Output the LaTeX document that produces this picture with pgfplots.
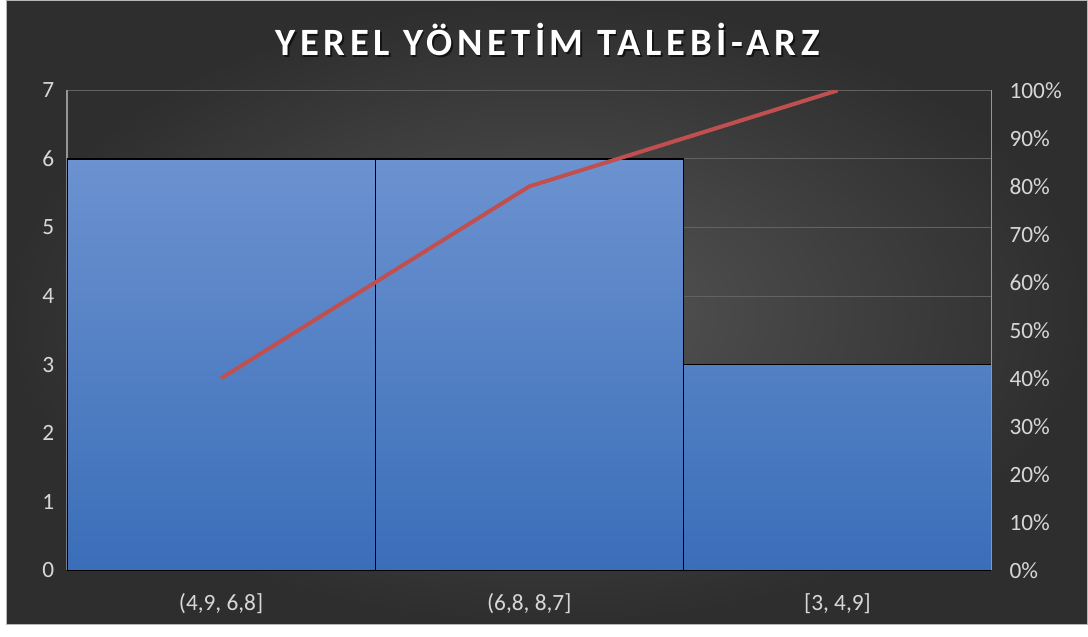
\documentclass[border=0pt]{standalone}
\usepackage{pgfplots}
\pgfplotsset{compat=1.18}
\usepackage{fontspec}
\setmainfont{Carlito}
\definecolor{bgin}{RGB}{86,86,86}
\definecolor{bgout}{RGB}{46,46,46}
\definecolor{labc}{RGB}{215,215,215}
\definecolor{axc}{RGB}{150,150,150}
\definecolor{gridc}{RGB}{98,98,98}
\definecolor{bartop}{RGB}{108,146,208}
\definecolor{barbot}{RGB}{58,110,184}
\definecolor{linec}{RGB}{192,80,80}
\begin{document}
\begin{tikzpicture}
\fill[white] (0pt,0pt) rectangle (816pt,477pt);
\shade[inner color=bgin, outer color=bgout] (5.25pt,9pt) rectangle (816pt,477pt);
\draw[axc!70, line width=0.75pt] (5.25pt,9pt) rectangle (816pt,477pt);
\begin{axis}[
  at={(50.25pt,49.5pt)}, anchor=south west, scale only axis,
  width=693.75pt, height=360pt,
  xmin=-0.5, xmax=2.5, ymin=0, ymax=7,
  ytick={0,1,2,3,4,5,6,7},
  xtick={0,1,2},
  xticklabels={{(4,9, 6,8]},{(6,8, 8,7]},{[3, 4,9]}},
  axis x line*=bottom, axis y line*=left,
  axis line style={-, axc, line width=1pt},
  ymajorgrids, grid style={gridc, line width=0.75pt},
  major tick length=0pt,
  /pgf/number format/assume math mode=true,
  tick label style={font=\fontsize{17.5}{17.5}\selectfont, text=labc},
  yticklabel style={xshift=-6pt},
  xticklabel style={yshift=-14pt},
  ybar, bar width=1,
]
\addplot[draw=black, line width=0.9pt, top color=bartop, bottom color=barbot] coordinates {(0,6) (1,6) (2,3)};
\end{axis}
\begin{axis}[
  at={(50.25pt,49.5pt)}, anchor=south west, scale only axis,
  width=693.75pt, height=360pt,
  xmin=-0.5, xmax=2.5, ymin=0, ymax=1,
  axis y line*=right, axis x line=none,
  axis line style={-, axc, line width=1pt},
  ytick={0,0.1,0.2,0.3,0.4,0.5,0.6,0.7,0.8,0.9,1},
  yticklabels={0\%,10\%,20\%,30\%,40\%,50\%,60\%,70\%,80\%,90\%,100\%},
  major tick length=0pt,
  tick label style={font=\fontsize{17.5}{17.5}\selectfont, text=labc},
  yticklabel style={xshift=10pt},
]
\addplot[linec, line width=3pt] coordinates {(0,0.4) (1,0.8) (2,1)};
\end{axis}
\node[black, opacity=0.6, font=\fontsize{29}{29}\bfseries\selectfont\addfontfeature{LetterSpace=12}] at (412pt,446.5pt) {YEREL YÖNETİM TALEBİ-ARZ};
\node[white, font=\fontsize{29}{29}\bfseries\selectfont\addfontfeature{LetterSpace=12}] at (411pt,447.5pt) {YEREL YÖNETİM TALEBİ-ARZ};
\end{tikzpicture}
\end{document}
